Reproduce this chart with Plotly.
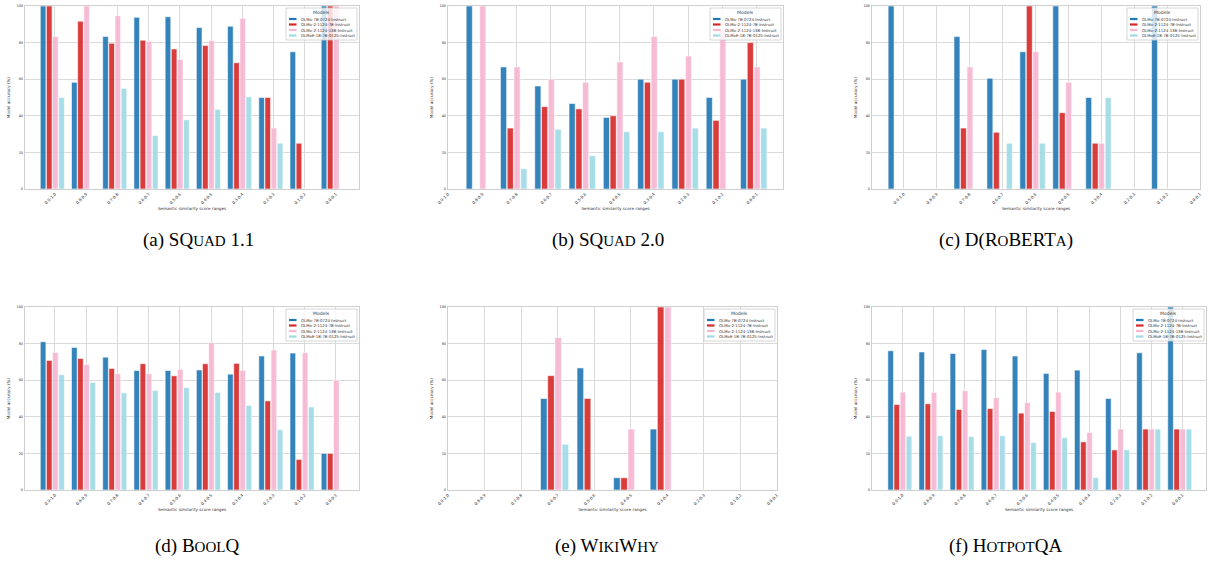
import plotly.graph_objects as go

W, H = 1208, 562

CATEGORIES = ["0.9-1.0", "0.8-0.9", "0.7-0.8", "0.6-0.7", "0.5-0.6",
              "0.4-0.5", "0.3-0.4", "0.2-0.3", "0.1-0.2", "0.0-0.1"]
MODELS = ["OLMo-7B-0724-Instruct", "OLMo-2-1124-7B-Instruct",
          "OLMo-2-1124-13B-Instruct", "OLMoE-1B-7B-0125-Instruct"]
COLORS = ["#1f77b4", "#d62728", "#f7b6d2", "#9edae5"]

# accuracy (%) per model (rows follow MODELS) per similarity range
SQUAD11 = [
    [100, 58.3, 83.3, 93.8, 94.1, 88.2, 88.9, 50, 75, 100],
    [100, 91.7, 79.6, 81.3, 76.5, 78.4, 69.0, 50, 25, 100],
    [83.3, 100, 94.7, 80.7, 70.8, 81.0, 93.3, 33.3, 0, 100],
    [50, 0, 55.0, 29.2, 37.8, 43.5, 50.4, 25, 0, 0],
]
SQUAD20 = [
    [0, 100, 66.7, 56.3, 46.7, 39.1, 60, 60, 50, 60],
    [0, 0, 33.3, 45.0, 43.8, 40.0, 58.3, 60, 37.5, 80],
    [0, 100, 66.7, 60, 58.3, 69.4, 83.3, 72.7, 87.5, 66.7],
    [0, 0, 11.1, 32.6, 18.2, 31.3, 31.3, 33.3, 0, 33.3],
]
DROBERTA = [
    [100, 0, 83.3, 60.5, 75, 100, 50, 0, 100, 0],
    [0, 0, 33.3, 31.0, 100, 41.7, 25, 0, 0, 0],
    [0, 0, 66.7, 0, 75, 58.3, 25, 0, 0, 0],
    [0, 0, 0, 25, 25, 0, 50, 0, 0, 0],
]
BOOLQ = [
    [81.0, 77.9, 72.6, 65.3, 65.3, 65.6, 63.3, 73.2, 74.8, 20],
    [70.8, 71.9, 66.4, 69.0, 62.4, 69.0, 69.2, 48.7, 16.7, 20],
    [75.2, 68.6, 63.5, 63.5, 65.9, 80.5, 65.4, 76.5, 75.0, 60],
    [63.0, 58.8, 53.1, 54.4, 56.0, 53.3, 46.2, 33.0, 45.4, 0],
]
WIKIWHY = [
    [0, 0, 0, 50, 66.7, 6.7, 33.3, 0, 0, 0],
    [0, 0, 0, 62.5, 50, 6.7, 100, 0, 0, 0],
    [0, 0, 0, 83.3, 0, 33.3, 100, 0, 0, 0],
    [0, 0, 0, 25, 0, 0, 0, 0, 0, 0],
]
HOTPOTQA = [
    [76.1, 75.4, 74.6, 76.8, 73.2, 63.7, 65.5, 50, 75, 100],
    [46.7, 47.1, 44.0, 44.5, 42.0, 42.9, 26.3, 21.9, 33.3, 33.3],
    [53.5, 53.3, 54.2, 50.5, 47.8, 53.5, 31.4, 33.3, 33.3, 33.3],
    [29.4, 29.7, 29.2, 29.6, 25.9, 28.6, 6.8, 21.9, 33.3, 33.3],
]

def sc(s):
    return '<span style="font-size:15px">' + s + '</span>'

CAPTIONS = [
    "(a) SQ" + sc("UAD") + " 1.1",
    "(b) SQ" + sc("UAD") + " 2.0",
    "(c) D(R" + sc("O") + "BERT" + sc("A") + ")",
    "(d) B" + sc("OOL") + "Q",
    "(e) W" + sc("IKI") + "W" + sc("HY"),
    "(f) H" + sc("OTPOT") + "QA",
]

# layout: (data, pixel box [x0, x1, y0, y1], x range, caption centre)
PANELS = [
    (SQUAD11, (25, 359, 6, 189), (-0.96, 9.74), (198, 240)),
    (SQUAD20, (448, 783, 6, 189), (0.0, 9.77), (608, 240)),
    (DROBERTA, (872, 1200, 6, 189), (-0.96, 9.0), (1006, 240)),
    (BOOLQ, (25, 359, 307, 490), (-0.96, 9.74), (197, 546)),
    (WIKIWHY, (448, 777, 307, 490), (0.0, 9.0), (607, 546)),
    (HOTPOTQA, (872, 1206, 307, 490), (-0.98, 9.76), (1006, 546)),
]

BAR_W = 0.18
BAR_OFFSETS = [-0.47, -0.273, -0.076, 0.121]
TXT = "#333333"
GRID = "#dadada"
FONT = "DejaVu Sans"

def px(x):
    return x / W

def py(y):
    return 1 - y / H

fig = go.Figure()
shapes = []
annotations = []
layout_axes = {}

for k, (data, box, xr, cap) in enumerate(PANELS):
    n = "" if k == 0 else str(k + 1)
    x0, x1, y0, y1 = box
    for i, (name, col) in enumerate(zip(MODELS, COLORS)):
        fig.add_trace(go.Bar(
            x=CATEGORIES, y=data[i], name=name,
            xaxis="x" + n, yaxis="y" + n,
            width=BAR_W, offset=BAR_OFFSETS[i],
            marker=dict(color=col, opacity=0.9,
                        line=dict(color="rgba(255,255,255,0.7)", width=0.8)),
            showlegend=False,
        ))
    layout_axes["xaxis" + n] = dict(
        domain=[px(x0), px(x1)], anchor="y" + n, automargin=False,
        type="category", categoryorder="array", categoryarray=CATEGORIES,
        range=list(xr), tickangle=-45,
        tickfont=dict(size=4, color=TXT, family=FONT),
        showgrid=True, gridcolor=GRID, gridwidth=1.4,
        showline=True, linecolor="#cfcfcf", linewidth=1.4, mirror=True,
        ticks="", ticklen=0, zeroline=False,
        title=dict(text="Semantic similarity score ranges",
                   font=dict(size=4.2, color=TXT, family=FONT), standoff=2),
    )
    layout_axes["yaxis" + n] = dict(
        domain=[py(y1), py(y0)], anchor="x" + n, automargin=False,
        range=[0, 100], tickvals=[0, 20, 40, 60, 80, 100],
        tickfont=dict(size=3.5, color=TXT, family=FONT),
        showgrid=True, gridcolor=GRID, gridwidth=1.4,
        showline=True, linecolor="#cfcfcf", linewidth=1.4, mirror=True,
        ticks="", zeroline=False,
        title=dict(text="Model accuracy (%)",
                   font=dict(size=4.2, color=TXT, family=FONT), standoff=5),
    )

    # legend box (top-right inside the axes)
    lx1, ly0 = x1 - 2, y0 + 2
    lx0, ly1 = lx1 - 71, ly0 + 32
    shapes.append(dict(type="rect", xref="paper", yref="paper",
                       x0=px(lx0), x1=px(lx1), y0=py(ly1), y1=py(ly0),
                       fillcolor="rgba(255,255,255,0.8)",
                       line=dict(color="#cccccc", width=0.8), layer="above"))
    annotations.append(dict(xref="paper", yref="paper",
                            x=px((lx0 + lx1) / 2), y=py(ly0 + 4.8),
                            text="Models", showarrow=False,
                            font=dict(size=4.6, color=TXT, family=FONT),
                            xanchor="center", yanchor="middle"))
    for i, (name, col) in enumerate(zip(MODELS, COLORS)):
        yy = ly0 + 11 + i * 5.5
        shapes.append(dict(type="line", xref="paper", yref="paper",
                           x0=px(lx0 + 3), x1=px(lx0 + 10.5),
                           y0=py(yy), y1=py(yy),
                           line=dict(color=col, width=2.2), layer="above"))
        annotations.append(dict(xref="paper", yref="paper",
                                x=px(lx0 + 13), y=py(yy),
                                text=name, showarrow=False,
                                font=dict(size=3.9, color=TXT, family=FONT),
                                xanchor="left", yanchor="middle"))

    annotations.append(dict(xref="paper", yref="paper",
                            x=px(cap[0]), y=py(cap[1]),
                            text=CAPTIONS[k], showarrow=False,
                            font=dict(size=19, color="#000000",
                                      family="Liberation Serif"),
                            xanchor="center", yanchor="middle"))

fig.update_layout(
    width=W, height=H,
    margin=dict(l=0, r=0, t=0, b=0, autoexpand=False),
    paper_bgcolor="white", plot_bgcolor="white",
    barmode="overlay",
    showlegend=False,
    shapes=shapes, annotations=annotations,
    **layout_axes,
)

fig.write_html("out.html")
